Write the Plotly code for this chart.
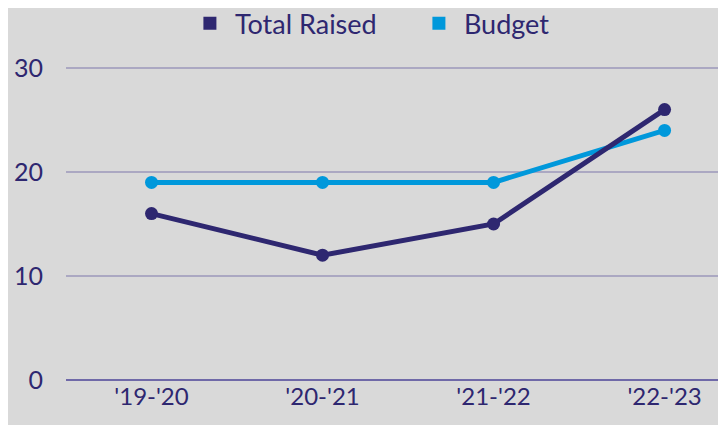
import plotly.graph_objects as go

categories = ["'19-'20", "'20-'21", "'21-'22", "'22-'23"]
total_raised = [16, 12, 15, 26]
budget = [19, 19, 19, 24]
y_ticks = [0, 10, 20, 30]

navy = "#2E2770"
blue = "#0098DB"
bg = "#D9D9D9"
font_family = "Lato, Inter, sans-serif"

fig = go.Figure()
fig.add_trace(go.Scatter(x=categories, y=budget, mode="lines+markers",
                         line=dict(color=blue, width=5), marker=dict(size=13, color=blue),
                         showlegend=False, name="Budget"))
fig.add_trace(go.Scatter(x=categories, y=total_raised, mode="lines+markers",
                         line=dict(color=navy, width=5), marker=dict(size=13, color=navy),
                         showlegend=False, name="Total Raised"))
# legend-only entries with square symbols
fig.add_trace(go.Scatter(x=[None], y=[None], mode="markers", name="Total Raised",
                         marker=dict(symbol="square", size=13, color=navy)))
fig.add_trace(go.Scatter(x=[None], y=[None], mode="markers", name="Budget",
                         marker=dict(symbol="square", size=13, color=blue)))

fig.update_layout(
    width=726, height=425,
    paper_bgcolor=bg, plot_bgcolor=bg,
    margin=dict(l=58, r=0, t=47, b=53, autoexpand=False),
    font=dict(family=font_family, color=navy, size=25),
    legend=dict(orientation="h", x=0.178, xanchor="left", y=1.096, yanchor="middle",
                yref="paper", font=dict(size=27), itemwidth=40, tracegroupgap=0,
                entrywidth=174, entrywidthmode="pixels",
                bgcolor="rgba(0,0,0,0)"),
    xaxis=dict(type="category", range=[-0.5, 3.406], showgrid=False, zeroline=False,
               showline=False, ticks="", automargin=False,
               tickfont=dict(size=24, color=navy)),
    yaxis=dict(range=[0, 31.25], tickvals=y_ticks, showgrid=True, gridcolor="#ABA8C2",
               gridwidth=2, zeroline=True, zerolinecolor="#6F69A8", zerolinewidth=2,
               showline=False, ticks="", ticklabelstandoff=22, automargin=False,
               tickfont=dict(size=25, color=navy)),
)

fig.write_html("out.html")
